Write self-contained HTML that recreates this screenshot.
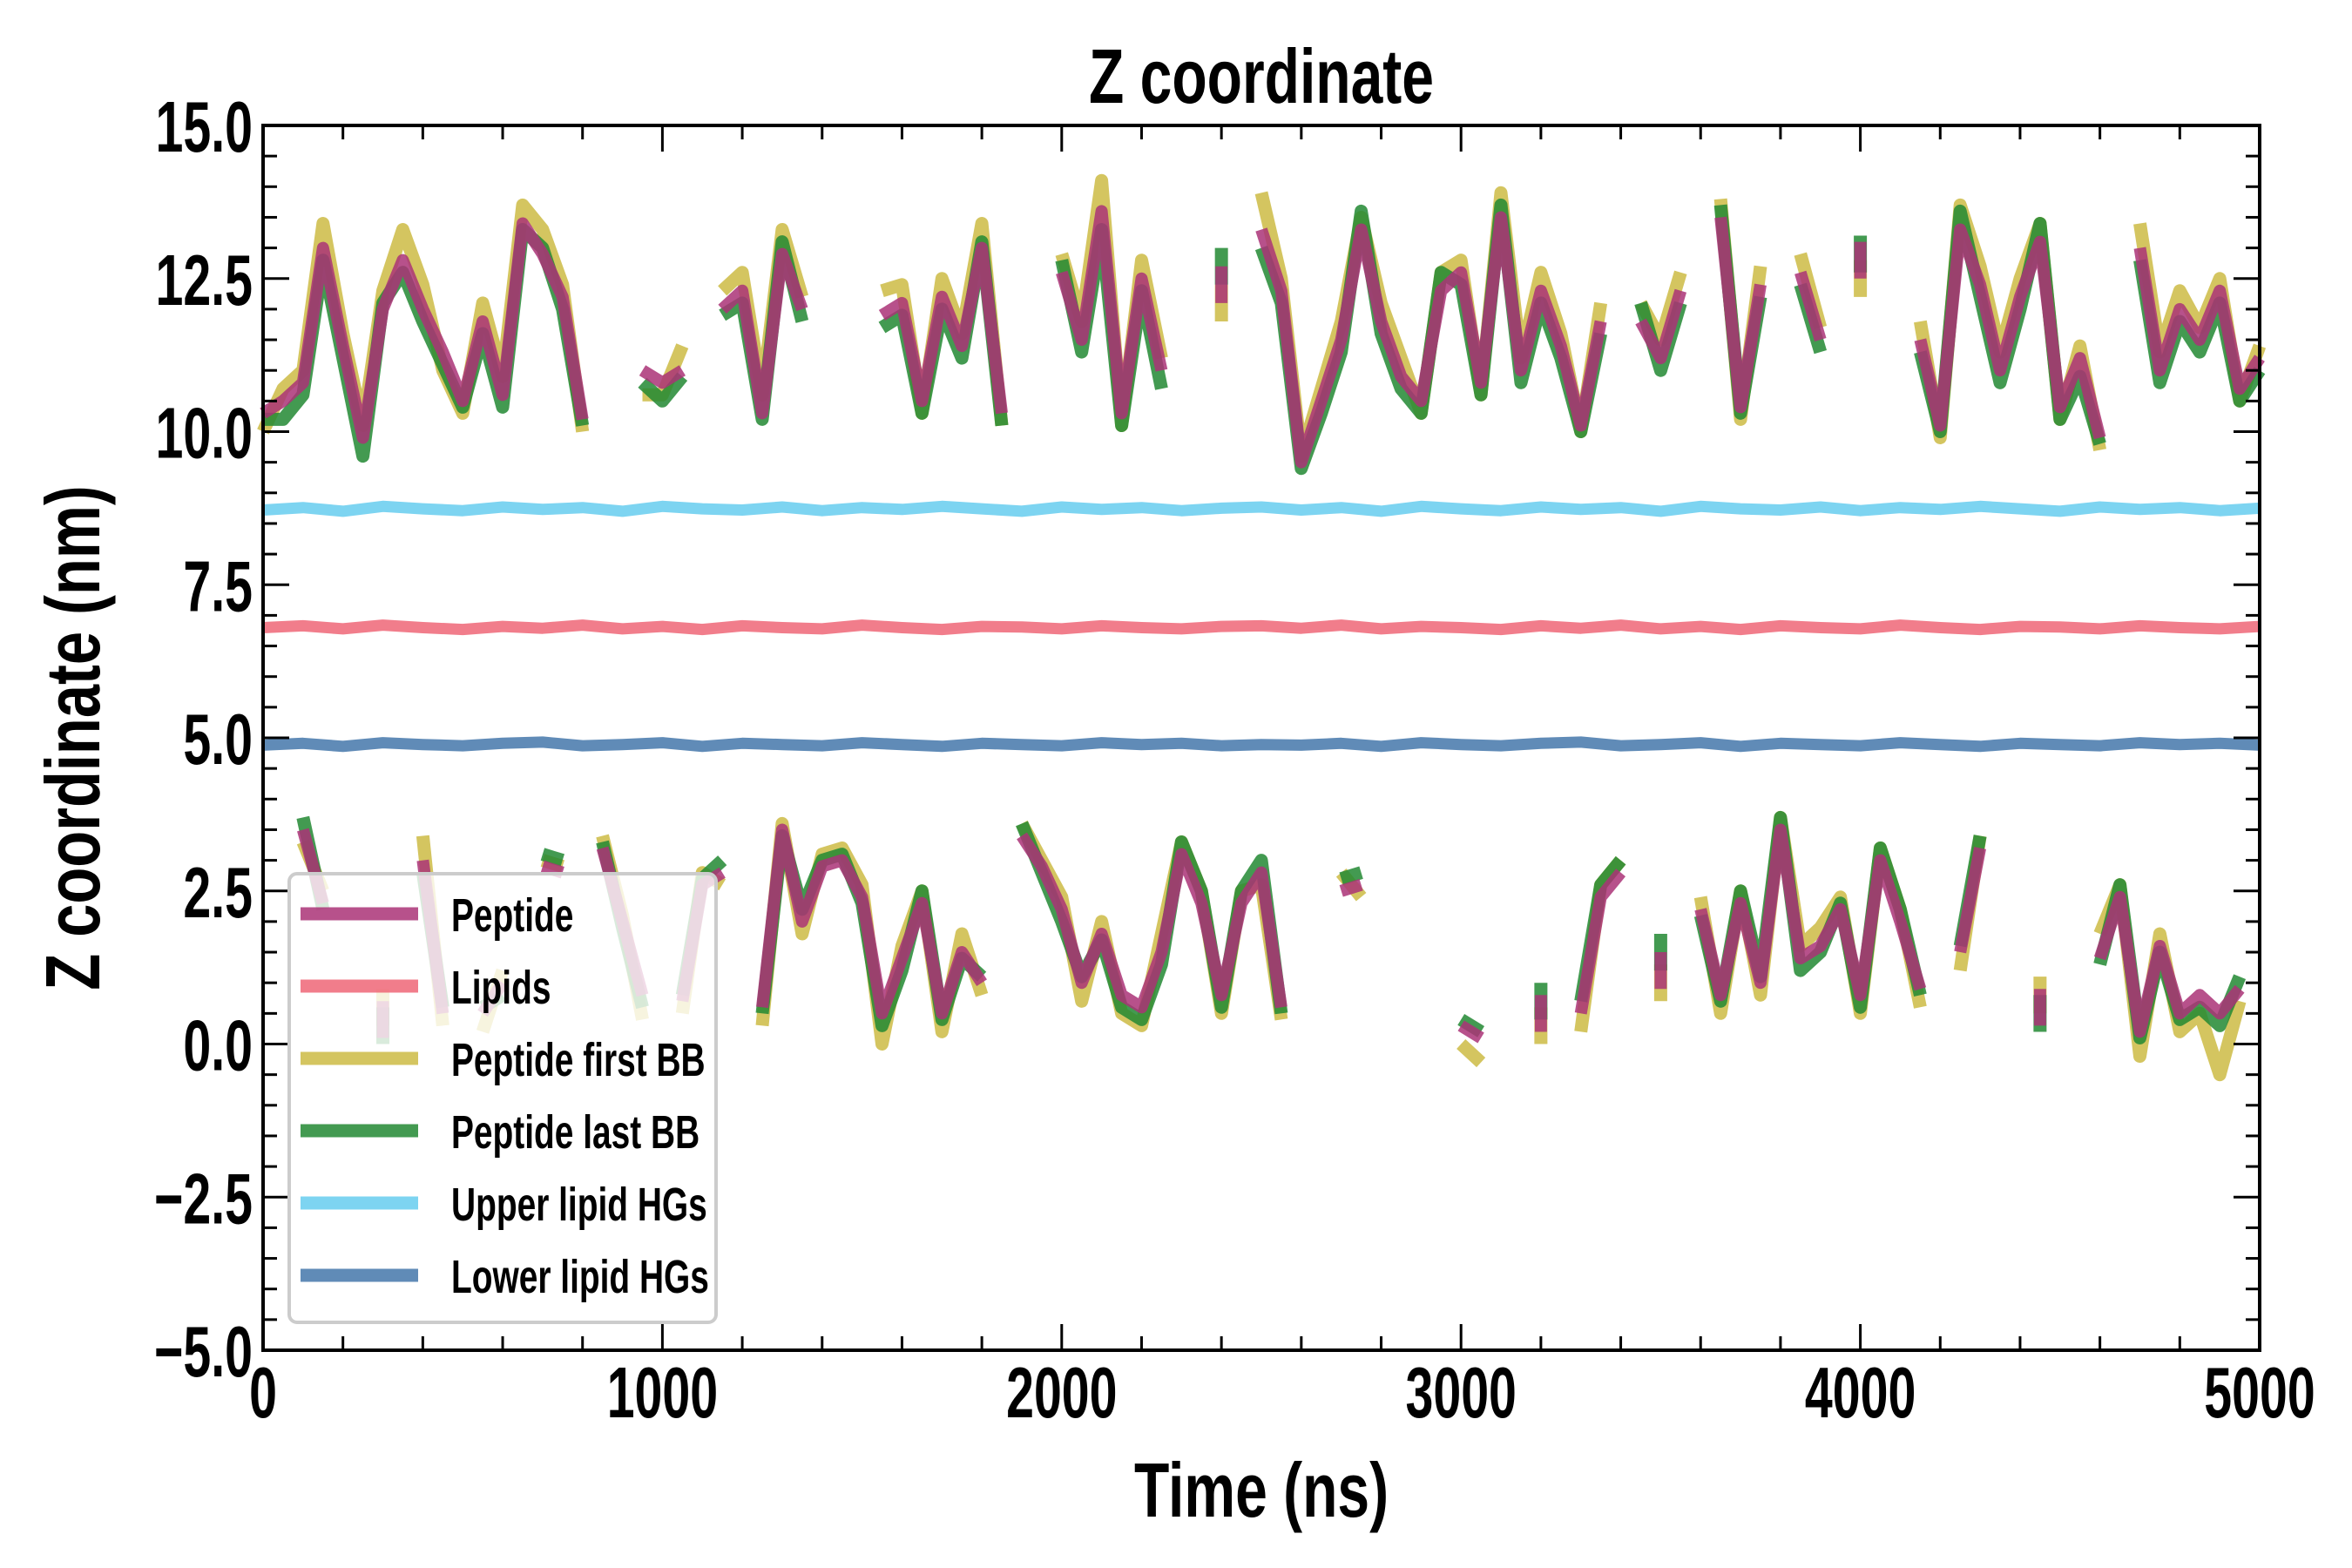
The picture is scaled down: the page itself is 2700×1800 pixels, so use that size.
<!DOCTYPE html>
<html><head><meta charset="utf-8"><style>
html,body{margin:0;padding:0;background:#fff;width:2700px;height:1800px;overflow:hidden}
svg text{font-family:"Liberation Sans Narrow","Liberation Sans",sans-serif;font-weight:bold;fill:#000}
</style></head><body>
<svg id="chart" width="2700" height="1800" xmlns="http://www.w3.org/2000/svg">
<g id="lipids"></g><g id="series"></g><g id="axes"></g><g id="legend"></g><g id="labels"></g>
</svg>
<script>
const T0=0,T1=5000,V0=-5,V1=15;
const PL=302,PR=2594,PT=144,PB=1550;
const stepNs=50;
const pepUpper=[10.3,10.5,10.8,13.0,11.4,9.9,12.0,12.8,12.0,11.3,10.5,11.8,10.6,13.4,12.9,12.2,10.2,null,null,11.0,10.8,11.0,null,12.0,12.3,10.3,12.9,12.0,null,null,null,11.9,12.1,10.5,12.2,11.4,13.0,10.3,null,null,12.6,11.5,13.6,10.3,12.5,11.0,null,null,12.4,null,13.3,12.3,9.5,10.5,11.5,13.3,11.8,10.9,10.5,12.3,12.6,10.8,13.5,11.0,12.3,11.4,10.1,11.8,null,11.8,11.2,12.3,null,13.5,10.4,12.4,null,12.6,11.5,null,12.8,null,null,11.5,10.1,13.3,12.4,11.0,12.2,13.1,10.4,11.2,9.9,null,13.0,11.0,12.0,11.5,12.3,10.7,11.2];
const firstUpper=[10.0,10.7,11.0,13.4,11.6,10.1,12.3,13.3,12.4,11.0,10.3,12.1,10.9,13.7,13.3,12.4,10.0,null,null,10.6,10.6,11.4,null,12.3,12.6,10.6,13.3,12.2,null,null,null,12.3,12.4,10.3,12.5,11.6,13.4,10.1,null,null,12.9,11.8,14.1,10.1,12.8,11.2,null,null,12.1,null,13.9,12.5,9.6,10.7,11.8,13.5,12.1,11.2,10.3,12.6,12.8,10.6,13.9,11.2,12.6,11.6,10.0,12.1,null,12.1,11.5,12.6,null,13.8,10.2,12.7,null,12.9,11.7,null,12.5,null,null,11.8,9.9,13.7,12.7,11.3,12.5,13.4,10.2,11.4,9.7,null,13.4,11.3,12.3,11.7,12.5,10.5,11.4];
const lastUpper=[10.2,10.2,10.6,12.8,11.2,9.6,12.1,12.6,11.8,11.1,10.4,11.6,10.4,13.3,13.0,12.0,10.1,null,null,10.8,10.5,10.9,null,11.9,12.1,10.2,13.1,11.8,null,null,null,11.7,11.9,10.3,12.0,11.2,13.1,10.1,null,null,12.8,11.3,13.3,10.1,12.3,10.7,null,null,12.7,null,13.0,12.1,9.4,10.3,11.3,13.6,11.6,10.7,10.3,12.6,12.4,10.6,13.7,10.8,12.1,11.2,10.0,11.6,null,12.1,11.0,12.1,null,13.7,10.3,12.2,null,12.4,11.3,null,12.9,null,null,11.3,10.0,13.6,12.2,10.8,12.0,13.4,10.2,10.9,9.8,null,12.8,10.8,11.8,11.3,12.1,10.5,11.0];
const pepLower=[null,null,3.5,2.3,null,null,0.4,null,3.0,0.5,null,0.5,1.0,null,2.9,2.8,null,3.2,2.0,0.8,null,0.7,2.6,2.8,null,0.6,3.5,2.0,2.9,3.0,2.4,0.5,1.4,2.3,0.5,1.5,1.0,null,3.4,2.9,2.2,1.0,1.8,0.8,0.6,1.5,3.1,2.3,0.8,2.3,2.8,0.6,null,null,2.5,2.6,null,null,null,null,0.3,0.1,null,null,0.5,null,0.5,2.4,2.8,null,1.2,null,2.2,0.8,2.3,1.0,3.5,1.4,1.6,2.2,0.8,3.0,2.0,0.9,null,1.5,3.2,null,null,0.6,null,null,1.4,2.4,0.2,1.6,0.5,0.8,0.5,0.9,null];
const firstLower=[null,null,3.3,2.5,null,null,0.6,null,3.4,0.3,null,0.2,1.2,null,3.0,2.9,null,3.4,2.1,0.4,null,0.5,2.8,2.6,null,0.3,3.6,1.8,3.1,3.2,2.6,0.0,1.6,2.5,0.2,1.8,0.8,null,3.6,3.0,2.4,0.7,2.0,0.5,0.3,1.8,3.3,2.5,0.5,2.5,2.6,0.4,null,null,2.8,2.4,null,null,null,null,0.0,-0.3,null,null,0.3,null,0.2,2.6,3.0,null,1.0,null,2.4,0.5,2.5,0.8,3.7,1.6,1.9,2.4,0.5,3.2,2.2,0.6,null,1.2,3.4,null,null,0.8,null,null,1.8,2.6,-0.2,1.8,0.2,0.5,-0.5,0.7,null];
const lastLower=[null,null,3.7,2.2,null,null,0.3,null,2.8,0.6,null,0.6,0.8,null,3.1,3.0,null,3.3,1.9,0.6,null,0.8,2.7,3.0,null,0.5,3.4,2.2,3.0,3.1,2.3,0.3,1.2,2.5,0.4,1.4,1.1,null,3.6,2.8,2.0,1.1,1.7,0.6,0.4,1.3,3.3,2.5,0.6,2.5,3.0,0.5,null,null,2.7,2.8,null,null,null,null,0.4,0.2,null,null,0.7,null,0.7,2.6,3.0,null,1.5,null,2.1,0.7,2.5,1.1,3.7,1.2,1.5,2.3,0.6,3.2,2.2,0.8,null,1.6,3.4,null,null,0.5,null,null,1.3,2.6,0.1,1.5,0.4,0.6,0.3,1.1,null];
const lipidStep=100;
const upperHG=[8.72,8.76,8.70,8.78,8.74,8.71,8.77,8.73,8.76,8.70,8.78,8.74,8.72,8.77,8.71,8.76,8.73,8.78,8.74,8.70,8.77,8.73,8.76,8.71,8.75,8.77,8.72,8.76,8.70,8.78,8.74,8.71,8.77,8.73,8.76,8.70,8.78,8.74,8.72,8.77,8.71,8.76,8.73,8.78,8.74,8.70,8.77,8.73,8.76,8.71,8.75];
const lipidsZ=[6.80,6.83,6.78,6.84,6.80,6.77,6.82,6.79,6.84,6.78,6.82,6.77,6.83,6.80,6.78,6.84,6.80,6.77,6.82,6.81,6.78,6.83,6.80,6.78,6.82,6.83,6.79,6.84,6.78,6.82,6.80,6.77,6.83,6.79,6.84,6.78,6.82,6.77,6.83,6.80,6.78,6.84,6.80,6.77,6.82,6.81,6.78,6.83,6.80,6.78,6.82];
const lowerHG=[4.88,4.91,4.86,4.92,4.89,4.87,4.91,4.93,4.87,4.89,4.92,4.86,4.91,4.89,4.87,4.92,4.89,4.86,4.91,4.89,4.87,4.92,4.89,4.91,4.87,4.89,4.88,4.91,4.86,4.92,4.89,4.87,4.91,4.93,4.87,4.89,4.92,4.86,4.91,4.89,4.87,4.92,4.89,4.86,4.91,4.89,4.87,4.92,4.89,4.91,4.88];
const yTicks=[-5,-2.5,0,2.5,5,7.5,10,12.5,15];
const yTickLabels=["\u22125.0","\u22122.5","0.0","2.5","5.0","7.5","10.0","12.5","15.0"];
const xTicks=[0,1000,2000,3000,4000,5000];
const xTickLabels=["0","1000","2000","3000","4000","5000"];
const legendLabels=["Peptide","Lipids","Peptide first BB","Peptide last BB","Upper lipid HGs","Lower lipid HGs"];
const C={pep:"#aa3377",lip:"#ee6677",first:"#ccbb44",last:"#228833",up:"#66ccee",low:"#4477aa"};
const NS="http://www.w3.org/2000/svg";
function X(t){return PL+(t-T0)/(T1-T0)*(PR-PL);}
function Y(v){return PB-(v-V0)/(V1-V0)*(PB-PT);}
function mk(tag,attrs,parent){const e=document.createElementNS(NS,tag);for(const k in attrs)e.setAttribute(k,attrs[k]);parent.appendChild(e);return e;}
function drawSeries(vals,step,color,width,parent,name){
  let seg=[];const segs=[];
  vals.forEach((v,i)=>{if(v===null){if(seg.length)segs.push(seg);seg=[];}else seg.push([i*step,v]);});
  if(seg.length)segs.push(seg);
  segs.forEach(s=>{
    let d;
    if(s.length===1){const [t,v]=s[0];d="M"+X(t)+","+Y(v+0.3)+"L"+X(t)+","+Y(v-0.3);}
    else d=s.map((p,j)=>(j?"L":"M")+X(p[0]).toFixed(1)+","+Y(p[1]).toFixed(1)).join("");
    const p=mk("path",{d:d,fill:"none",stroke:color,"stroke-width":width,"stroke-opacity":0.85,"stroke-linejoin":"round","stroke-linecap":"butt"},parent);
    
    
  });
}
function txt(x,y,s,anchor,size,sx,parent,name,rot){
  const t=mk("text",{transform:"translate("+x+","+y+")"+(rot?" rotate(-90)":"")+" scale("+sx+",1)","text-anchor":anchor,"font-size":size},parent);
  t.textContent=s;
  
  
  return t;
}
const lg=document.getElementById("lipids"),sg=document.getElementById("series"),ag=document.getElementById("axes"),leg=document.getElementById("legend"),lb=document.getElementById("labels");
drawSeries(upperHG,lipidStep,C.up,13,lg,"upper-lipid-hg-line");
drawSeries(lipidsZ,lipidStep,C.lip,13,lg,"lipids-line");
drawSeries(lowerHG,lipidStep,C.low,13,lg,"lower-lipid-hg-line");
drawSeries(firstUpper,stepNs,C.first,15,sg,"peptide-first-bb-upper-line");
drawSeries(firstLower,stepNs,C.first,15,sg,"peptide-first-bb-lower-line");
drawSeries(lastUpper,stepNs,C.last,15,sg,"peptide-last-bb-upper-line");
drawSeries(lastLower,stepNs,C.last,15,sg,"peptide-last-bb-lower-line");
drawSeries(pepUpper,stepNs,C.pep,14,sg,"peptide-upper-line");
drawSeries(pepLower,stepNs,C.pep,14,sg,"peptide-lower-line");
for(let v=V0;v<=V1+1e-9;v+=0.5){const major=Math.abs(v/2.5-Math.round(v/2.5))<1e-6;const L=major?30:16;
  const a=mk("line",{x1:PL,x2:PL+L,y1:Y(v),y2:Y(v),stroke:"#000","stroke-width":3},ag);
  const b=mk("line",{x1:PR,x2:PR-L,y1:Y(v),y2:Y(v),stroke:"#000","stroke-width":3},ag);}
for(let t=T0;t<=T1;t+=200){const major=t%1000===0;const L=major?30:16;
  const a=mk("line",{x1:X(t),x2:X(t),y1:PB,y2:PB-L,stroke:"#000","stroke-width":3},ag);
  const b=mk("line",{x1:X(t),x2:X(t),y1:PT,y2:PT+L,stroke:"#000","stroke-width":3},ag);}
const frame=mk("rect",{x:PL,y:PT,width:PR-PL,height:PB-PT,fill:"none",stroke:"#000","stroke-width":4},ag);

yTicks.forEach((v,i)=>txt(290,Y(v)+30,yTickLabels[i],"end",83,0.69,lb,"y-tick-label"));
xTicks.forEach((t,i)=>txt(X(t),1627,xTickLabels[i],"middle",83,0.69,lb,"x-tick-label"));
txt((PL+PR)/2,118,"Z coordinate","middle",88,0.75,lb,"chart-title");
txt((PL+PR)/2,1741,"Time (ns)","middle",88,0.75,lb,"x-axis-title");
txt(114,(PT+PB)/2,"Z coordinate (nm)","middle",88,0.78,lb,"y-axis-title",true);
const box=mk("rect",{x:332,y:1003,width:490,height:515,rx:9,fill:"#fff","fill-opacity":0.8,stroke:"#cccccc","stroke-width":4},leg);

const legColors=[C.pep,C.lip,C.first,C.last,C.up,C.low];
legendLabels.forEach((s,i)=>{const y=1049+i*83;
  const l=mk("line",{x1:345,x2:480,y1:y,y2:y,stroke:legColors[i],"stroke-width":15,"stroke-opacity":0.85},leg);
  
  txt(518,y+20,s,"start",54,0.72,leg,"legend-entry");});
</script>
</body></html>
